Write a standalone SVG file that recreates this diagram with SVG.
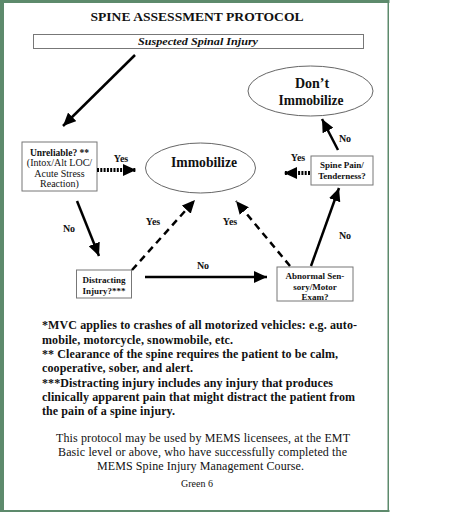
<svg xmlns="http://www.w3.org/2000/svg" width="476" height="512" viewBox="0 0 476 512">
<defs>
<style>
text{font-family:"Liberation Serif","Times New Roman",serif;fill:#111}
.b{font-weight:bold}
.box{fill:#fff;stroke:#777;stroke-width:1}
.ell{fill:#fff;stroke:#666;stroke-width:1}
.solid{stroke:#000;stroke-width:2.5;fill:none}
.dot{stroke:#000;stroke-width:4;stroke-dasharray:2 1.3;fill:none}
.dash{stroke:#000;stroke-width:2.5;stroke-dasharray:7 5;fill:none}
.lbl{font-size:10px;font-weight:bold}
.fn{font-size:12px;font-weight:bold}
.ft{font-size:12px}
</style>
<marker id="ah" markerUnits="userSpaceOnUse" markerWidth="14" markerHeight="12" viewBox="0 0 14 12" refX="13" refY="6" orient="auto">
<path d="M0,0 L13,6 L0,12 Z" fill="#000"/>
</marker>
</defs>
<rect x="0" y="0" width="476" height="512" fill="#fff"/>
<g id="frame" fill="#5d8a6c">
<rect x="0" y="0" width="389.5" height="3"/>
<rect x="0" y="0" width="4" height="512"/>
<rect x="387.5" y="0" width="1.5" height="512"/>
<rect x="0" y="510" width="389.5" height="2"/>
</g>
<text id="title" class="b" x="197" y="21" font-size="13" text-anchor="middle" textLength="213" lengthAdjust="spacingAndGlyphs">SPINE ASSESSMENT PROTOCOL</text>
<g id="suspected">
<rect class="box" x="33.5" y="34.5" width="330" height="14"/>
<text x="198" y="45" font-size="10" font-weight="bold" font-style="italic" text-anchor="middle" textLength="120" lengthAdjust="spacingAndGlyphs">Suspected Spinal Injury</text>
</g>
<g id="unreliable">
<rect class="box" x="22" y="142" width="75" height="49"/>
<text x="59.5" y="156" font-size="9.5" class="b" text-anchor="middle">Unreliable? **</text>
<text x="59.5" y="166" font-size="10" text-anchor="middle">(Intox/Alt LOC/</text>
<text x="59.5" y="177" font-size="10" text-anchor="middle">Acute Stress</text>
<text x="59.5" y="187" font-size="10" text-anchor="middle">Reaction)</text>
</g>
<g id="immobilize">
<ellipse class="ell" cx="200.5" cy="168" rx="55" ry="25"/>
<text x="204" y="167" font-size="14" class="b" text-anchor="middle" textLength="66" lengthAdjust="spacingAndGlyphs">Immobilize</text>
</g>
<g id="dont">
<ellipse class="ell" cx="310.5" cy="91" rx="62.5" ry="25"/>
<text x="312" y="88" font-size="14" class="b" text-anchor="middle">Don’t</text>
<text x="311" y="105" font-size="14" class="b" text-anchor="middle" textLength="65" lengthAdjust="spacingAndGlyphs">Immobilize</text>
</g>
<g id="spinepain">
<rect class="box" x="311" y="156" width="62" height="29"/>
<text x="342" y="168" font-size="9" class="b" text-anchor="middle">Spine Pain/</text>
<text x="342" y="179" font-size="9" class="b" text-anchor="middle">Tenderness?</text>
</g>
<g id="distracting">
<rect class="box" x="76.5" y="270" width="55" height="28"/>
<text x="104" y="282.5" font-size="9" class="b" text-anchor="middle">Distracting</text>
<text x="104" y="293.5" font-size="9" class="b" text-anchor="middle">Injury?***</text>
</g>
<g id="abnormal">
<rect class="box" x="277" y="267" width="76" height="34"/>
<text x="315" y="279" font-size="9" class="b" text-anchor="middle">Abnormal Sen-</text>
<text x="315" y="289.5" font-size="9" class="b" text-anchor="middle">sory/Motor</text>
<text x="315" y="300" font-size="9" class="b" text-anchor="middle">Exam?</text>
</g>
<g id="connectors">
<line class="solid" x1="135" y1="55" x2="63" y2="126" marker-end="url(#ah)"/>
<line class="dot" x1="97" y1="170" x2="136" y2="170" marker-end="url(#ah)"/>
<line class="solid" x1="77" y1="201" x2="99" y2="256" marker-end="url(#ah)"/>
<line class="dash" x1="132" y1="270" x2="195" y2="200" marker-end="url(#ah)"/>
<line class="solid" x1="145" y1="277" x2="267" y2="277" marker-end="url(#ah)"/>
<line class="dash" x1="290" y1="266" x2="236" y2="201" marker-end="url(#ah)"/>
<line class="solid" x1="311" y1="266" x2="339" y2="188" marker-end="url(#ah)"/>
<line class="dot" x1="310" y1="173" x2="284" y2="173" marker-end="url(#ah)"/>
<line class="solid" x1="338" y1="150" x2="322" y2="119" marker-end="url(#ah)"/>
<text class="lbl" x="121" y="162" text-anchor="middle">Yes</text>
<text class="lbl" x="69" y="232" text-anchor="middle">No</text>
<text class="lbl" x="153" y="225" text-anchor="middle">Yes</text>
<text class="lbl" x="230" y="225" text-anchor="middle">Yes</text>
<text class="lbl" x="203" y="269" text-anchor="middle">No</text>
<text class="lbl" x="345" y="239" text-anchor="middle">No</text>
<text class="lbl" x="298" y="161" text-anchor="middle">Yes</text>
<text class="lbl" x="345" y="142" text-anchor="middle">No</text>
</g>
<g id="footnotes">
<text class="fn" x="42" y="329" textLength="315" lengthAdjust="spacing">*MVC applies to crashes of all motorized vehicles: e.g. auto-</text>
<text class="fn" x="42" y="343.5" textLength="191" lengthAdjust="spacing">mobile, motorcycle, snowmobile, etc.</text>
<text class="fn" x="42" y="358" textLength="296" lengthAdjust="spacing">** Clearance of the spine requires the patient to be calm,</text>
<text class="fn" x="42" y="372" textLength="151" lengthAdjust="spacing">cooperative, sober, and alert.</text>
<text class="fn" x="42" y="386.5" textLength="291" lengthAdjust="spacing">***Distracting injury includes any injury that produces</text>
<text class="fn" x="42" y="401" textLength="313" lengthAdjust="spacing">clinically apparent pain that might distract the patient from</text>
<text class="fn" x="42" y="415" textLength="133" lengthAdjust="spacing">the pain of a spine injury.</text>
</g>
<g id="footer">
<text class="ft" x="203" y="442" text-anchor="middle" textLength="294" lengthAdjust="spacing">This protocol may be used by MEMS licensees, at the EMT</text>
<text class="ft" x="202.5" y="456" text-anchor="middle" textLength="289" lengthAdjust="spacing">Basic level or above, who have successfully completed the</text>
<text class="ft" x="200.5" y="469.5" text-anchor="middle" textLength="207" lengthAdjust="spacing">MEMS Spine Injury Management Course.</text>
<text x="197" y="487" font-size="10" text-anchor="middle">Green 6</text>
</g>
</svg>
